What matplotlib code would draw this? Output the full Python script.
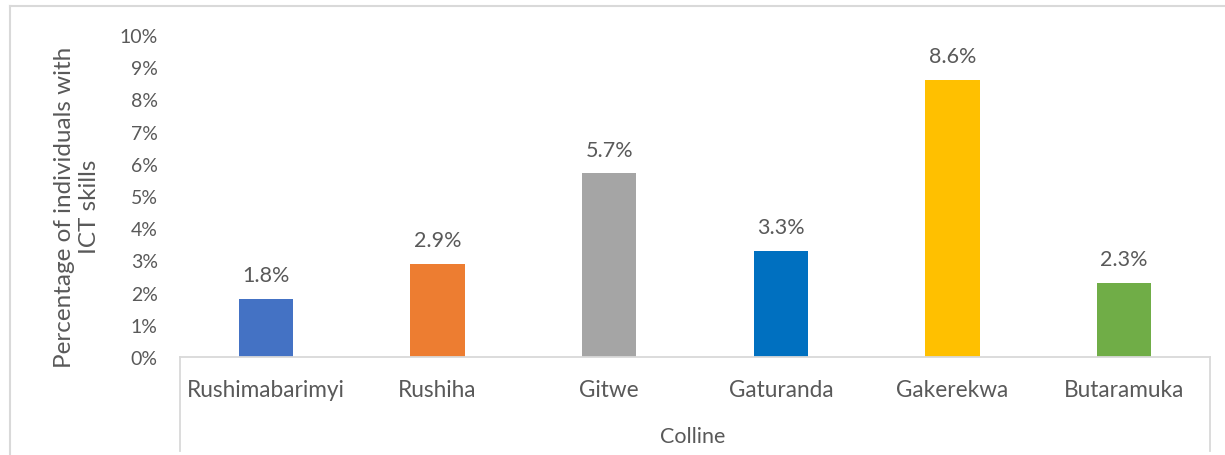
import matplotlib
matplotlib.use("Agg")
import matplotlib.pyplot as plt
from matplotlib.lines import Line2D
from matplotlib.ticker import FuncFormatter, MultipleLocator

# Share of individuals with ICT skills per colline
collines = ["Rushimabarimyi", "Rushiha", "Gitwe", "Gaturanda", "Gakerekwa", "Butaramuka"]
ict_share = [1.8, 2.9, 5.7, 3.3, 8.6, 2.3]
bar_colors = ["#4472C4", "#ED7D31", "#A5A5A5", "#0070C0", "#FFC000", "#70AD47"]
x_title = "Colline"
y_title = "Percentage of individuals with\nICT skills"

plt.rcParams["font.family"] = ["Lato", "DejaVu Sans"]
text_color = "#595959"
axis_gray = "#D9D9D9"
fs_tick = 14.0
fs_cat = 16.3
fs_data = 15.5
fs_xtitle = 15.5
fs_ytitle = 17.5

W, H = 1225, 456
fig = plt.figure(figsize=(W / 100, H / 100), dpi=100)

# plot area in pixel coordinates
left, right, top, zero_y = 180, 1210, 36, 358
ax = fig.add_axes([left / W, 1 - zero_y / H, (right - left) / W, (zero_y - top) / H])

pos = range(len(collines))
ax.bar(pos, ict_share, width=0.315, color=bar_colors, zorder=2)
for i, v in enumerate(ict_share):
    ax.annotate(f"{v:.1f}%", (i, v), xytext=(0, 10), textcoords="offset points",
                ha="center", va="bottom", fontsize=fs_data, color=text_color)

ax.set_xlim(-0.5, len(collines) - 0.5)
ax.set_ylim(0, 10)
ax.yaxis.set_major_locator(MultipleLocator(1))
ax.yaxis.set_major_formatter(FuncFormatter(lambda v, _: f"{v:.0f}%"))
ax.tick_params(axis="y", length=0, labelsize=fs_tick, labelcolor=text_color, pad=16)
ax.set_xticks([])
for s in ["top", "right", "left"]:
    ax.spines[s].set_visible(False)
ax.spines["bottom"].set_color(axis_gray)
ax.spines["bottom"].set_linewidth(1.3)

# category labels and axis title below the axis
for i, name in enumerate(collines):
    ax.annotate(name, (i, 0), xytext=(0, -16), textcoords="offset points",
                ha="center", va="top", fontsize=fs_cat, color=text_color)
fig.text(((left + right) / 2 - 2) / W, 1 - 437 / H, x_title, ha="center", va="center",
         fontsize=fs_xtitle, color=text_color)
fig.text(77 / W, 1 - 207 / H, y_title, rotation=90, ha="center", va="center",
         fontsize=fs_ytitle, color=text_color, linespacing=1.2)

# category-axis side borders
for xp in (left, right):
    fig.add_artist(Line2D([xp / W, xp / W], [1 - zero_y / H, 1 - 452 / H],
                          transform=fig.transFigure, color=axis_gray, lw=1.3))

# chart frame
fig.add_artist(Line2D([10 / W, 10 / W], [0, 1 - 7 / H], transform=fig.transFigure,
                      color=axis_gray, lw=1.5))
fig.add_artist(Line2D([10 / W, 1], [1 - 7 / H, 1 - 7 / H], transform=fig.transFigure,
                      color=axis_gray, lw=1.5))

fig.savefig("out.png", dpi=100, facecolor="white")
